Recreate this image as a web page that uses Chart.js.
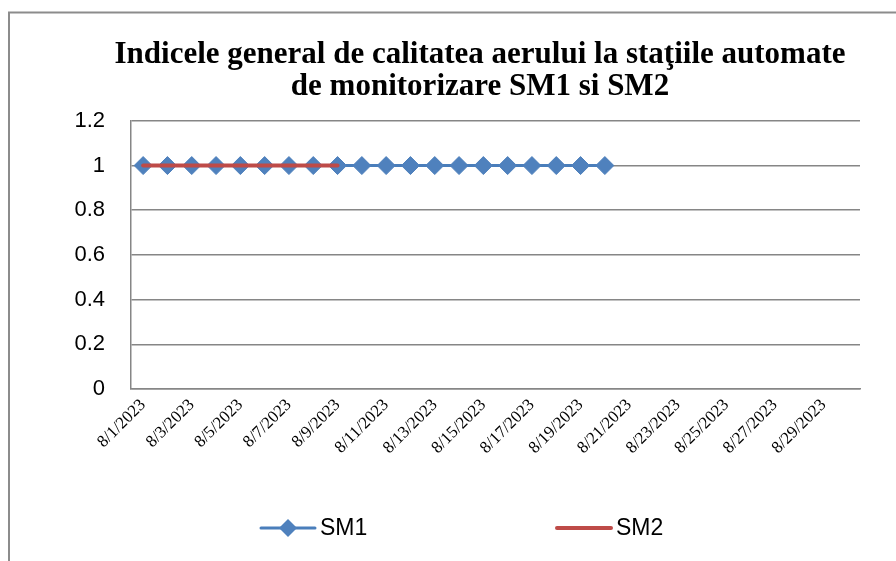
<!DOCTYPE html>
<html>
<head>
<meta charset="utf-8">
<script src="https://cdn.jsdelivr.net/npm/chart.js@4.4.0/dist/chart.umd.min.js"></script>
<style>
  html, body { margin: 0; padding: 0; background: #fff; overflow: hidden; }
  canvas { display: block; }
</style>
</head>
<body>
<canvas id="chart" width="896" height="561"></canvas>
<script>
// days of August 2023 on the category axis
const categories = [
  "8/1/2023", "8/2/2023", "8/3/2023", "8/4/2023", "8/5/2023", "8/6/2023",
  "8/7/2023", "8/8/2023", "8/9/2023", "8/10/2023", "8/11/2023", "8/12/2023",
  "8/13/2023", "8/14/2023", "8/15/2023", "8/16/2023", "8/17/2023", "8/18/2023",
  "8/19/2023", "8/20/2023", "8/21/2023", "8/22/2023", "8/23/2023", "8/24/2023",
  "8/25/2023", "8/26/2023", "8/27/2023", "8/28/2023", "8/29/2023", "8/30/2023"
];
const sm1 = [1, 1, 1, 1, 1, 1, 1, 1, 1, 1, 1, 1, 1, 1, 1, 1, 1, 1, 1, 1];
const sm2 = [1, 1, 1, 1, 1, 1, 1, 1, 1];
const yTicks = [0, 0.2, 0.4, 0.6, 0.8, 1, 1.2];

const SANS = "'Liberation Sans', Arial, sans-serif";
const SERIF = "'Liberation Serif', 'Times New Roman', serif";

// outer chart frame, like the Excel chart border
const framePlugin = {
  id: "frame",
  beforeDraw(chart) {
    const ctx = chart.ctx;
    ctx.save();
    ctx.fillStyle = "#fff";
    ctx.fillRect(0, 0, chart.width, chart.height);
    ctx.strokeStyle = "#8c8c8c";
    ctx.lineWidth = 2;
    ctx.strokeRect(9, 12.5, chart.width + 20, chart.height + 20);
    ctx.restore();
  },
  // the Excel title is centred a bit right of the plot, shift its box
  afterLayout(chart) {
    if (chart.titleBlock) chart.titleBlock.left = 100;
  }
};

// Excel style legend: line with the marker on it
const legendPlugin = {
  id: "excelLegend",
  afterDraw(chart) {
    const ctx = chart.ctx;
    const y = 528;
    const startX = 261, lineLen = 54, step = 296;
    ctx.save();
    ctx.font = "23px " + SANS;
    ctx.textBaseline = "middle";
    ctx.fillStyle = "#000";
    chart.data.datasets.forEach((ds, i) => {
      const x = startX + i * step;
      ctx.strokeStyle = ds.borderColor;
      ctx.lineWidth = ds.borderWidth;
      ctx.lineCap = "round";
      ctx.beginPath();
      ctx.moveTo(x, y);
      ctx.lineTo(x + lineLen, y);
      ctx.stroke();
      if (ds.pointRadius > 0) {
        const r = ds.pointRadius;
        const cx = x + lineLen / 2;
        ctx.fillStyle = ds.pointBackgroundColor;
        ctx.beginPath();
        ctx.moveTo(cx, y - r);
        ctx.lineTo(cx + r, y);
        ctx.lineTo(cx, y + r);
        ctx.lineTo(cx - r, y);
        ctx.closePath();
        ctx.fill();
        ctx.fillStyle = "#000";
      }
      ctx.fillText(ds.label, x + lineLen + 5, y + 1);
    });
    ctx.restore();
  }
};

new Chart(document.getElementById("chart"), {
  type: "line",
  data: {
    labels: categories,
    datasets: [
      {
        label: "SM1",
        data: sm1,
        borderColor: "#4A7EBB",
        borderWidth: 3,
        pointStyle: "rectRot",
        pointRadius: 9,
        pointBackgroundColor: "#4F81BD",
        pointBorderColor: "#4F81BD",
        pointBorderWidth: 1,
        tension: 0,
        order: 1
      },
      {
        label: "SM2",
        data: sm2,
        borderColor: "#BE4B48",
        borderWidth: 4,
        borderCapStyle: "round",
        pointRadius: 0,
        tension: 0,
        order: 0
      }
    ]
  },
  options: {
    responsive: false,
    animation: false,
    layout: { padding: { left: 70, right: 36, top: 0, bottom: 0 } },
    plugins: {
      legend: { display: false },
      tooltip: { enabled: false },
      title: {
        display: true,
        text: [
          "Indicele general de calitatea aerului la staţiile automate",
          "de monitorizare SM1 si SM2"
        ],
        color: "#000",
        font: { family: SERIF, size: 31, weight: "bold", lineHeight: 1.03 },
        padding: { top: 39, bottom: 18 }
      }
    },
    scales: {
      x: {
        offset: true,
        grid: { display: false, drawTicks: false },
        border: { display: true, color: "#868686", width: 1.5 },
        ticks: {
          autoSkip: false,
          minRotation: 45,
          maxRotation: 45,
          padding: 6,
          color: "#000",
          font: { family: SERIF, size: 17 },
          callback: (v, i) => (i % 2 === 0 ? categories[i] : "")
        },
        afterFit: (scale) => { scale.height = 172; }
      },
      y: {
        min: 0,
        max: 1.2,
        grid: { color: "#868686", lineWidth: 1.5, drawTicks: false },
        border: { display: true, color: "#868686", width: 1.5 },
        ticks: {
          padding: 26,
          color: "#000",
          font: { family: SANS, size: 22 },
          callback: (v) => String(v)
        },
        afterBuildTicks: (axis) => { axis.ticks = yTicks.map((v) => ({ value: v })); },
        afterFit: (scale) => { scale.width = 61; }
      }
    }
  },
  plugins: [framePlugin, legendPlugin]
});
</script>
</body>
</html>
